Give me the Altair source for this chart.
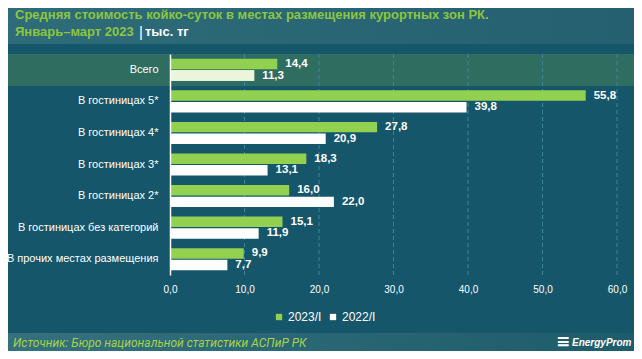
import altair as alt
import pandas as pd

categories = ["Всего", "В гостиницах 5*", "В гостиницах 4*", "В гостиницах 3*",
              "В гостиницах 2*", "В гостиницах без категорий", "В прочих местах размещения"]
series = ["2023/I", "2022/I"]
v2023 = [14.4, 55.8, 27.8, 18.3, 16.0, 15.1, 9.9]
v2022 = [11.3, 39.8, 20.9, 13.1, 22.0, 11.9, 7.7]
x_ticks = [0, 10, 20, 30, 40, 50, 60]

title1 = "Средняя стоимость койко-суток в местах размещения курортных зон РК."
title2 = "Январь–март 2023"
unit = "тыс. тг"
source = "Источник: Бюро национальной статистики АСПиР РК"
brand = "EnergyProm"

rows = []
for c, a, b in zip(categories, v2023, v2022):
    rows.append({"cat": c, "series": series[0], "v": a})
    rows.append({"cat": c, "series": series[1], "v": b})
df = pd.DataFrame(rows)
grid_df = pd.DataFrame({"g": x_ticks[1:]})
one = alt.Data(values=[{"a": 1}])

W, H = 447, 221
PL, PT = 162, 46
CW, CH = 626, 343

BG = "#15566a"
GREEN = "#92d050"
TGREEN = "#8cc63f"
FONT = "Liberation Sans"

xs = alt.Scale(domain=[0, 60], nice=False, zero=True)
ys = alt.Scale(domain=categories, paddingInner=0.3, paddingOuter=0.15)
yos = alt.Scale(domain=series, paddingInner=0.1)

def grad(c1, c2):
    return alt.Gradient(gradient="linear", x1=0, x2=1, y1=0, y2=0,
                        stops=[alt.GradientStop(color=c1, offset=0),
                               alt.GradientStop(color=c2, offset=1)])

header = alt.Chart(one).mark_rect(fill=grad("#2f6c7a", "#24606f")).encode(
    x=alt.value(-PL), x2=alt.value(CW - PL), y=alt.value(-PT), y2=alt.value(-10))
footer = alt.Chart(one).mark_rect(fill=grad("#35717d", "#1d5c6b")).encode(
    x=alt.value(-PL), x2=alt.value(CW - PL), y=alt.value(279), y2=alt.value(CH - PT))
band = alt.Chart(one).mark_rect(fill="#2f6d60").encode(
    x=alt.value(-PL), x2=alt.value(CW - PL), y=alt.value(0), y2=alt.value(32))

grid = alt.Chart(grid_df).mark_rule(color="#3a879b", strokeDash=[4, 3], strokeWidth=1).encode(
    x=alt.X("g:Q", scale=xs))

bars = alt.Chart(df).mark_bar().encode(
    x=alt.X("v:Q", scale=xs, title=None,
            axis=alt.Axis(values=x_ticks, grid=False, ticks=False, domain=False,
                          labelColor="white", labelFontSize=10, labelFont=FONT,
                          labelPadding=9, labelFlush=False,
                          labelExpr="replace(format(datum.value, '.1f'), '.', ',')")),
    y=alt.Y("cat:N", scale=ys, sort=categories, title=None,
            axis=alt.Axis(ticks=False, domain=True, domainColor="white", domainWidth=1.5,
                          labelColor="white", labelFontSize=11, labelFont=FONT,
                          labelPadding=12, labelLimit=300, zindex=1)),
    yOffset=alt.YOffset("series:N", scale=yos, sort=series),
    color=alt.Color("series:N", scale=alt.Scale(domain=series, range=[GREEN, "#ffffff"]),
                    sort=series,
                    legend=alt.Legend(orient="none", legendX=103, legendY=257,
                                      direction="horizontal", title=None,
                                      symbolType="square", symbolSize=40,
                                      symbolStrokeWidth=0, labelColor="white",
                                      labelFontSize=12, labelFont=FONT,
                                      labelOffset=3, columnPadding=5, padding=0)),
)

overlay = alt.Chart(df).transform_filter(
    (alt.datum.cat == categories[0]) & (alt.datum.series == series[1])
).mark_bar(color="#ebf5dc").encode(
    x=alt.X("v:Q", scale=xs),
    y=alt.Y("cat:N", scale=ys, sort=categories),
    yOffset=alt.YOffset("series:N", scale=yos, sort=series),
)

labels = alt.Chart(df).transform_calculate(
    lab="replace(format(datum.v, '.1f'), '.', ',')"
).mark_text(align="left", baseline="middle", dx=8, color="white",
            fontWeight="bold", fontSize=11.5, font=FONT).encode(
    x=alt.X("v:Q", scale=xs),
    y=alt.Y("cat:N", scale=ys, sort=categories),
    yOffset=alt.YOffset("series:N", scale=yos, sort=series),
    text="lab:N",
)

def txt(s, x, y, **kw):
    return alt.Chart(one).mark_text(text=s, align="left", baseline="alphabetic", **kw).encode(
        x=alt.value(x), y=alt.value(y))

t1 = txt(title1, -155, -35, color=TGREEN, fontSize=13, fontWeight="bold", font=FONT)
t2 = txt(title2, -155, -18, color=TGREEN, fontSize=13, fontWeight="bold", font=FONT)
t3 = txt("|", -31, -17, color="white", fontSize=15, font=FONT)
t4 = txt(unit, -25, -18, color="white", fontSize=13, fontWeight="bold", font=FONT)
src = txt(source, -157, 293, color="#a8d24a", fontSize=12, fontStyle="italic", font="Roboto")
logo_icon = txt("≡", 386, 293, color="white", fontSize=17, fontWeight="bold",
                fontStyle="italic", font="DejaVu Sans")
logo = txt(brand, 402, 292, color="white", fontSize=10, fontWeight="bold",
           fontStyle="italic", font=FONT)

chart = alt.layer(header, footer, band, grid, bars, overlay, labels,
                  t1, t2, t3, t4, src, logo_icon, logo).properties(
    width=W, height=H,
    autosize=alt.AutoSizeParams(type="none"),
    padding={"left": PL, "top": PT, "right": CW - PL - W, "bottom": CH - PT - H},
    background=BG,
).configure_view(stroke=None)

chart.save("out.html", embed_options={"renderer": "svg", "actions": False})
